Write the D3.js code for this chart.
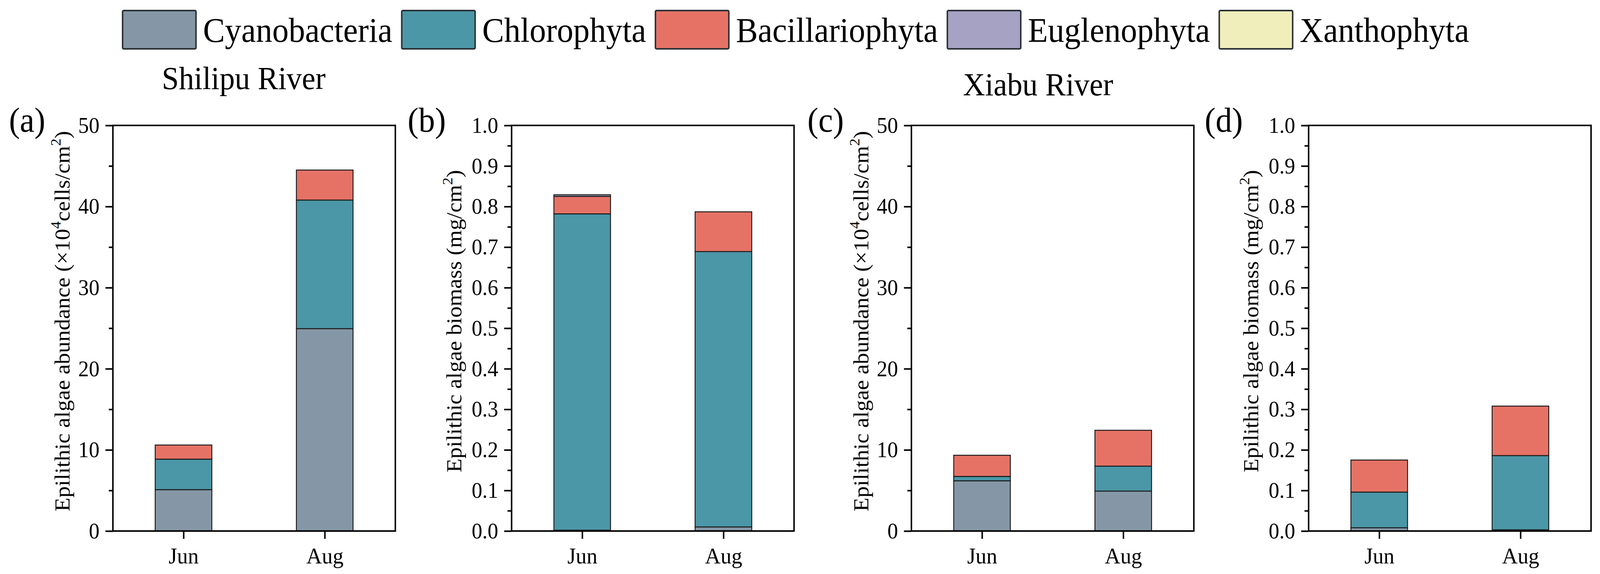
<!DOCTYPE html>
<html>
<head>
<meta charset="utf-8">
<script src="https://cdn.jsdelivr.net/npm/d3@7"></script>
<style>
  html, body { margin: 0; padding: 0; background: #fff; overflow: hidden; }
  svg { display: block; width: 100vw; height: 100vh; font-family: "Liberation Serif", "Times New Roman", serif; }
</style>
</head>
<body>
<svg id="chart" viewBox="0 0 4294 1469" preserveAspectRatio="none"></svg>
<script>
// data
const months = ['Jun', 'Aug'];
const phyla = ['Cyanobacteria', 'Chlorophyta', 'Bacillariophyta', 'Euglenophyta', 'Xanthophyta'];
const phylaColors = ['#8597a7', '#4b97a7', '#e67266', '#a6a2c4', '#f0eebb'];

// rows = months, columns = phyla
const shilipuAbundance = [[5.1, 3.76, 1.74, 0, 0], [24.95, 15.85, 3.7, 0, 0]];
const shilipuBiomass = [[0.002, 0.780, 0.043, 0.004, 0], [0.010, 0.679, 0.098, 0, 0]];
const xiabuAbundance = [[6.19, 0.54, 2.61, 0, 0], [4.92, 3.08, 4.42, 0, 0]];
const xiabuBiomass = [[0.008, 0.088, 0.079, 0, 0], [0.003, 0.183, 0.122, 0, 0]];

const abundanceTicks = [0, 10, 20, 30, 40, 50];
const biomassTicks = [0, 0.1, 0.2, 0.3, 0.4, 0.5, 0.6, 0.7, 0.8, 0.9, 1.0];

const svg = d3.select('#chart');
const plotTop = 321, plotBottom = 1359, plotW = 758;

// panels
const panels = [
  { id: '(a)', left: 303, data: shilipuAbundance, max: 50, ticks: abundanceTicks, minor: 5, fmt: d3.format('d'), kind: 'abundance' },
  { id: '(b)', left: 1373, data: shilipuBiomass, max: 1, ticks: biomassTicks, minor: 0.05, fmt: d3.format('.1f'), kind: 'biomass' },
  { id: '(c)', left: 2446, data: xiabuAbundance, max: 50, ticks: abundanceTicks, minor: 5, fmt: d3.format('d'), kind: 'abundance' },
  { id: '(d)', left: 3512, data: xiabuBiomass, max: 1, ticks: biomassTicks, minor: 0.05, fmt: d3.format('.1f'), kind: 'biomass' }
];

panels.forEach(p => {
  const g = svg.append('g').attr('transform', `translate(${p.left},0)`);

  const x = d3.scalePoint().domain(months).range([0, plotW]).padding(0.5);
  const y = d3.scaleLinear().domain([0, p.max]).range([plotBottom, plotTop]);
  const barW = 152;

  // stacked bars
  const rows = p.data.map((vals, i) => {
    const r = { month: months[i] };
    phyla.forEach((k, j) => r[k] = vals[j]);
    return r;
  });
  const stack = d3.stack().keys(phyla)(rows);

  g.selectAll('g.layer')
    .data(stack)
    .enter().append('g')
    .attr('class', 'layer')
    .attr('fill', (d, i) => phylaColors[i])
    .selectAll('rect')
    .data(d => d.filter(s => s[1] - s[0] > 0))
    .enter().append('rect')
    .attr('x', d => x(d.data.month) - barW / 2)
    .attr('width', barW)
    .attr('y', d => y(d[1]))
    .attr('height', d => y(d[0]) - y(d[1]))
    .attr('stroke', '#1c1c1c')
    .attr('stroke-width', 2.5);

  // minor ticks
  const minorVals = d3.range(p.minor, p.max, p.minor * 2);
  g.append('g')
    .call(d3.axisLeft(y).tickValues(minorVals).tickSize(11).tickFormat(''))
    .call(a => a.select('.domain').remove())
    .call(a => a.selectAll('line').attr('stroke', '#000').attr('stroke-width', 4));

  // major y axis
  g.append('g')
    .call(d3.axisLeft(y).tickValues(p.ticks).tickSize(20).tickPadding(16).tickFormat(p.fmt))
    .call(a => a.select('.domain').remove())
    .call(a => a.selectAll('line').attr('stroke', '#000').attr('stroke-width', 4))
    .call(a => a.selectAll('text')
      .attr('font-size', 57)
      .attr('fill', '#000')
      .attr('font-family', '"Liberation Serif", "Times New Roman", serif'));

  // x axis
  g.append('g')
    .attr('transform', `translate(0,${plotBottom})`)
    .call(d3.axisBottom(x).tickSize(20).tickPadding(0))
    .call(a => a.select('.domain').remove())
    .call(a => a.selectAll('line').attr('stroke', '#000').attr('stroke-width', 4))
    .call(a => a.selectAll('text')
      .attr('y', 83).attr('dy', 0)
      .attr('font-size', 58)
      .attr('fill', '#000')
      .attr('font-family', '"Liberation Serif", "Times New Roman", serif'));

  // frame
  g.append('rect')
    .attr('x', 0).attr('y', plotTop)
    .attr('width', plotW).attr('height', plotBottom - plotTop)
    .attr('fill', 'none')
    .attr('stroke', '#000')
    .attr('stroke-width', 4);

  // y label
  const labelX = p.kind === 'abundance' ? -116 : -135;
  const lab = g.append('text')
    .attr('transform', `translate(${labelX},822) rotate(-90)`)
    .attr('text-anchor', 'middle')
    .attr('font-size', 58)
    .attr('fill', '#000');
  if (p.kind === 'abundance') {
    lab.append('tspan').text('Epilithic algae abundance (×10');
    lab.append('tspan').attr('font-size', 38).attr('dy', -24).text('4');
    lab.append('tspan').attr('dy', 24).text('cells/cm');
    lab.append('tspan').attr('font-size', 38).attr('dy', -24).text('2');
    lab.append('tspan').attr('dy', 24).text(')');
  } else {
    lab.append('tspan').text('Epilithic algae biomass (mg/cm');
    lab.append('tspan').attr('font-size', 38).attr('dy', -24).text('2');
    lab.append('tspan').attr('dy', 24).text(')');
  }

  // panel letter
  g.append('text')
    .attr('x', -279).attr('y', 337)
    .attr('font-size', 88)
    .attr('fill', '#000')
    .text(p.id);
});

// river titles
svg.append('text')
  .attr('x', 654).attr('y', 228)
  .attr('text-anchor', 'middle')
  .attr('font-size', 82)
  .text('Shilipu River');
svg.append('text')
  .attr('x', 2786).attr('y', 244)
  .attr('text-anchor', 'middle')
  .attr('font-size', 82)
  .text('Xiabu River');

// legend
const legend = svg.append('g');
let cursor = 329;
phyla.forEach((name, i) => {
  legend.append('rect')
    .attr('x', cursor).attr('y', 27)
    .attr('width', 197).attr('height', 98)
    .attr('rx', 3)
    .attr('fill', phylaColors[i])
    .attr('stroke', '#2b3035')
    .attr('stroke-width', 4);
  const t = legend.append('text')
    .attr('x', cursor + 216).attr('y', 107)
    .attr('font-size', 88)
    .attr('fill', '#000')
    .text(name);
  cursor += 216 + t.node().getComputedTextLength() + 25;
});
</script>
</body>
</html>
